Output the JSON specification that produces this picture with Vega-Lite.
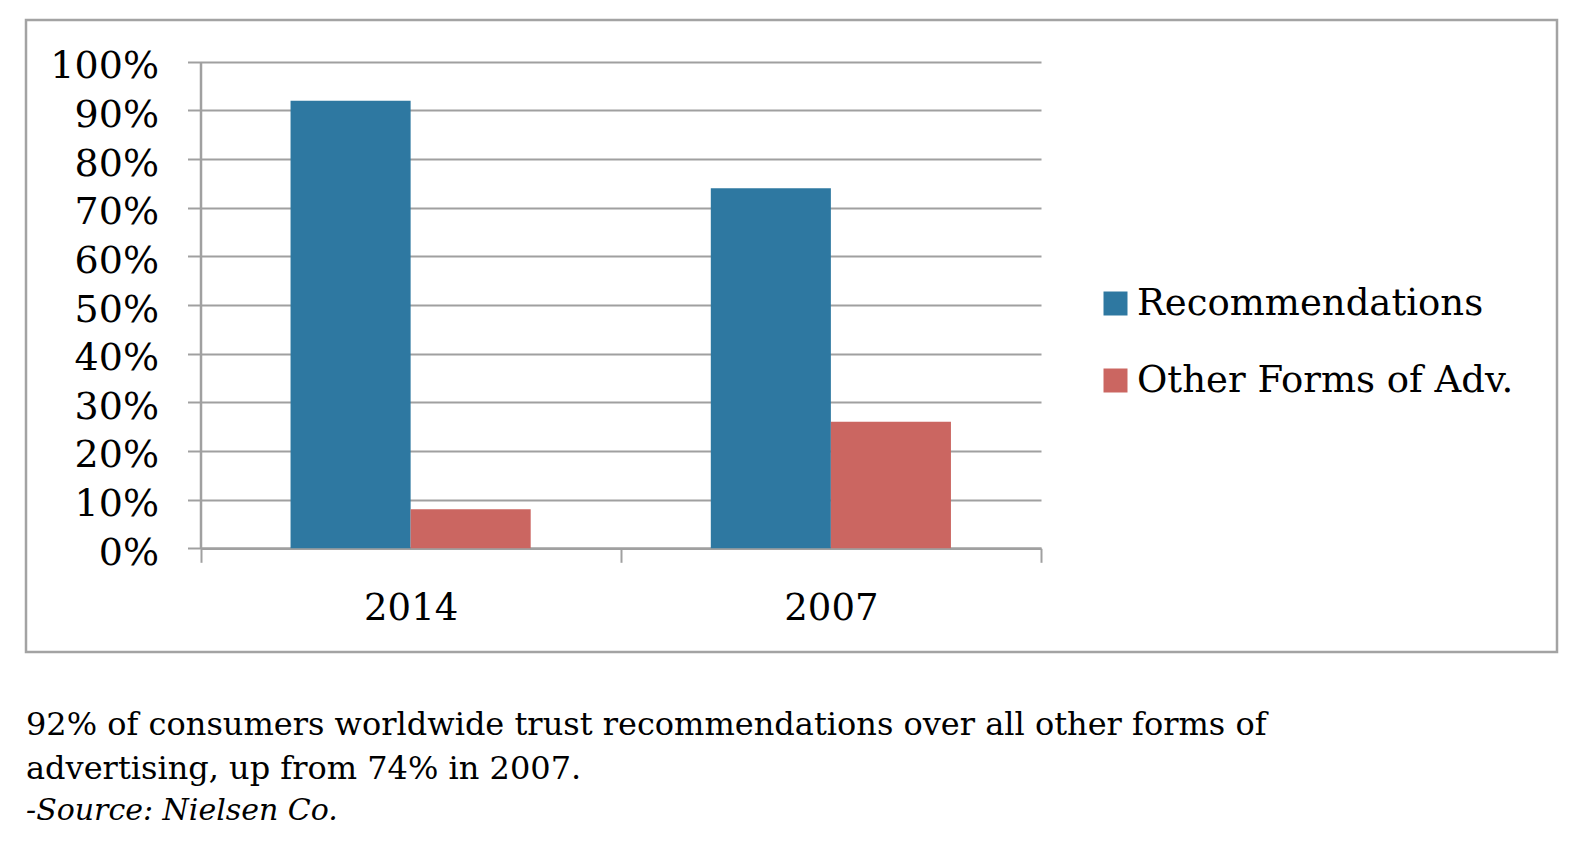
{
  "$schema": "https://vega.github.io/schema/vega-lite/v6.json",
  "autosize": {"type": "none"},
  "width": 1531,
  "height": 632,
  "padding": {"left": 26, "top": 20, "right": 30, "bottom": 192},
  "background": "white",
  "config": {
    "view": {"stroke": "#a3a3a3", "strokeWidth": 2.5},
    "font": "DejaVu Serif"
  },
  "title": {
    "text": ["92% of consumers worldwide trust recommendations over all other forms of", "advertising, up from 74% in 2007."],
    "subtitle": "-Source: Nielsen Co.",
    "orient": "bottom",
    "anchor": "start",
    "frame": "group",
    "offset": 58,
    "font": "DejaVu Serif",
    "fontSize": 32,
    "fontWeight": "normal",
    "color": "black",
    "lineHeight": 44,
    "subtitleFont": "DejaVu Serif",
    "subtitleFontSize": 30,
    "subtitleFontStyle": "italic",
    "subtitleColor": "black",
    "subtitlePadding": 10
  },
  "data": {
    "values": [
      {"year": "2014", "series": "Recommendations", "value": 0.92},
      {"year": "2014", "series": "Other Forms of Adv.", "value": 0.08},
      {"year": "2007", "series": "Recommendations", "value": 0.74},
      {"year": "2007", "series": "Other Forms of Adv.", "value": 0.26}
    ]
  },
  "mark": {"type": "bar"},
  "encoding": {
    "x": {
      "field": "year",
      "type": "nominal",
      "sort": ["2014", "2007"],
      "scale": {"range": [174.5, 1015], "paddingInner": 0, "paddingOuter": 0},
      "axis": {
        "title": null,
        "offset": -103.7,
        "labelAngle": 0,
        "labelFont": "DejaVu Serif",
        "labelFontSize": 37,
        "labelColor": "black",
        "labelPadding": 28,
        "tickBand": "extent",
        "tickSize": 14,
        "tickWidth": 2,
        "tickColor": "#a0a0a0",
        "domainColor": "#a0a0a0",
        "domainWidth": 2.5
      }
    },
    "xOffset": {
      "field": "series",
      "type": "nominal",
      "sort": ["Recommendations", "Other Forms of Adv."],
      "scale": {"paddingInner": 0, "paddingOuter": 0.75}
    },
    "y": {
      "field": "value",
      "type": "quantitative",
      "scale": {"domain": [0, 1], "range": [528.3, 41.7], "nice": false},
      "axis": {
        "title": null,
        "offset": -174.5,
        "values": [0, 0.1, 0.2, 0.3, 0.4, 0.5, 0.6, 0.7, 0.8, 0.9, 1],
        "format": ".0%",
        "labelFont": "DejaVu Serif",
        "labelFontSize": 38,
        "labelColor": "black",
        "labelPadding": 29,
        "labelBaseline": "middle",
        "labelOffset": 5,
        "tickSize": 13,
        "tickWidth": 2,
        "tickColor": "#a0a0a0",
        "domainColor": "#a0a0a0",
        "domainWidth": 2.5,
        "grid": true,
        "gridColor": "#a0a0a0",
        "gridWidth": 2
      }
    },
    "color": {
      "field": "series",
      "type": "nominal",
      "sort": ["Recommendations", "Other Forms of Adv."],
      "scale": {"domain": ["Recommendations", "Other Forms of Adv."], "range": ["#2E78A1", "#CB6661"]},
      "legend": {
        "title": null,
        "orient": "none",
        "legendX": 1071,
        "legendY": 265,
        "padding": 0,
        "symbolType": "square",
        "symbolSize": 576,
        "symbolStrokeWidth": 0,
        "symbolOpacity": 1,
        "labelFont": "DejaVu Serif",
        "labelFontSize": 37,
        "labelColor": "black",
        "labelLimit": 0,
        "labelOffset": 3,
        "rowPadding": 39
      }
    }
  }
}
